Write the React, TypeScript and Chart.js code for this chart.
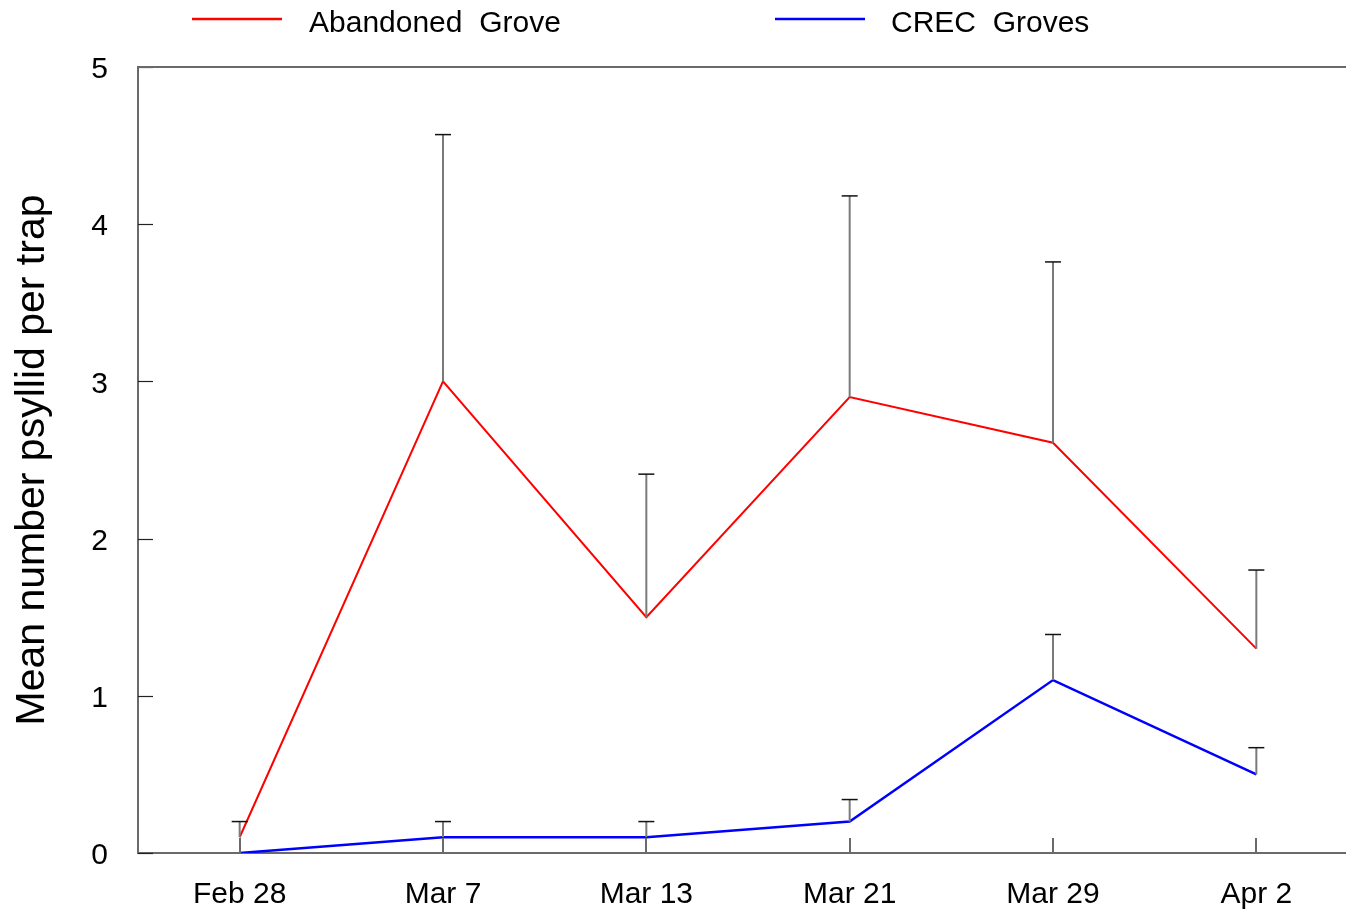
import React, { useEffect, useRef } from 'react';
import { Chart, registerables } from 'chart.js';

Chart.register(...registerables);

// Sampling dates
const dates = ['Feb 28', 'Mar 7', 'Mar 13', 'Mar 21', 'Mar 29', 'Apr 2'];

// Abandoned grove: mean catch and top of the error bar
const abandonedMean = [0.1, 3.0, 1.5, 2.9, 2.61, 1.3];
const abandonedUpper = [0.2, 4.57, 2.41, 4.18, 3.76, 1.8];

// CREC groves: mean catch and top of the error bar
const crecMean = [0, 0.1, 0.1, 0.2, 1.1, 0.5];
const crecUpper = [0, 0.2, 0.2, 0.34, 1.39, 0.67];

const seriesNames = ['Abandoned  Grove', 'CREC  Groves'];
const seriesColors = ['#ff0000', '#0000ff'];

const yTickValues = [0, 1, 2, 3, 4, 5];

const FONT = "'Liberation Sans', Arial, sans-serif";
const AXIS_COLOR = '#6a6a6a';

// Error bars, inward tick marks, top frame line and the legend row
const overlay = {
  id: 'overlay',
  afterDatasetsDraw(chart: any) {
    const ctx = chart.ctx;
    const x = chart.scales.x;
    const y = chart.scales.y;
    const area = chart.chartArea;
    ctx.save();

    // error bars
    chart.data.datasets.forEach((ds: any) => {
      ds.data.forEach((v: number, i: number) => {
        const up = ds.upper[i];
        if (up <= v) return;
        const px = x.getPixelForValue(i);
        const y0 = y.getPixelForValue(v);
        const y1 = y.getPixelForValue(up);
        ctx.strokeStyle = '#7a7a7a';
        ctx.lineWidth = 2;
        ctx.beginPath();
        ctx.moveTo(px, y0);
        ctx.lineTo(px, y1);
        ctx.stroke();
        ctx.strokeStyle = '#111';
        ctx.lineWidth = 1.5;
        ctx.beginPath();
        ctx.moveTo(px - 8, y1);
        ctx.lineTo(px + 8, y1);
        ctx.stroke();
      });
    });

    // x tick marks pointing up into the plot
    ctx.strokeStyle = AXIS_COLOR;
    ctx.lineWidth = 2;
    dates.forEach((_, i) => {
      const px = Math.round(x.getPixelForValue(i));
      ctx.beginPath();
      ctx.moveTo(px, area.bottom);
      ctx.lineTo(px, area.bottom - 15);
      ctx.stroke();
    });

    // y tick marks pointing right into the plot
    ctx.strokeStyle = '#222';
    ctx.lineWidth = 1.2;
    yTickValues.forEach((t) => {
      const py = Math.round(y.getPixelForValue(t)) + 0.5;
      ctx.beginPath();
      ctx.moveTo(area.left, py);
      ctx.lineTo(area.left + 15, py);
      ctx.stroke();
    });

    // top frame line
    ctx.strokeStyle = AXIS_COLOR;
    ctx.lineWidth = 2;
    ctx.beginPath();
    ctx.moveTo(area.left - 1, area.top);
    ctx.lineTo(area.right, area.top);
    ctx.stroke();

    // legend
    const items = [
      { x: 192, textX: 309 },
      { x: 775, textX: 891 },
    ];
    items.forEach((it, k) => {
      ctx.strokeStyle = seriesColors[k];
      ctx.lineWidth = 2.5;
      ctx.beginPath();
      ctx.moveTo(it.x, 19);
      ctx.lineTo(it.x + 90, 19);
      ctx.stroke();
      ctx.fillStyle = '#000';
      ctx.font = `30px ${FONT}`;
      ctx.textBaseline = 'middle';
      ctx.textAlign = 'left';
      ctx.fillText(seriesNames[k], it.textX, 24);
    });

    ctx.restore();
  },
};

export default function App() {
  const ref = useRef<HTMLCanvasElement>(null);

  useEffect(() => {
    const canvas = ref.current;
    if (!canvas) return;
    const chart = new Chart(canvas, {
      type: 'line',
      data: {
        labels: dates,
        datasets: [
          {
            label: seriesNames[0],
            data: abandonedMean,
            upper: abandonedUpper,
            borderColor: seriesColors[0],
            backgroundColor: seriesColors[0],
            borderWidth: 2,
            pointRadius: 0,
            tension: 0,
            fill: false,
          } as any,
          {
            label: seriesNames[1],
            data: crecMean,
            upper: crecUpper,
            borderColor: seriesColors[1],
            backgroundColor: seriesColors[1],
            borderWidth: 2.5,
            pointRadius: 0,
            tension: 0,
            fill: false,
          } as any,
        ],
      },
      options: {
        responsive: false,
        animation: false,
        devicePixelRatio: 1,
        layout: { padding: { top: 67, right: 12, left: 0, bottom: 0 } },
        plugins: {
          legend: { display: false },
          tooltip: { enabled: false },
        },
        scales: {
          x: {
            type: 'category',
            offset: true,
            grid: { display: false, drawTicks: false },
            border: { display: true, color: AXIS_COLOR, width: 2 },
            ticks: {
              color: '#000',
              font: { family: FONT, size: 30 },
              padding: 24,
              maxRotation: 0,
              autoSkip: false,
            },
            afterFit: (s: any) => {
              s.height = 58;
            },
          },
          y: {
            min: 0,
            max: 5,
            grid: { display: false, drawTicks: false },
            border: { display: true, color: AXIS_COLOR, width: 2 },
            ticks: {
              stepSize: 1,
              color: '#000',
              font: { family: FONT, size: 30 },
              padding: 30,
              labelOffset: 3,
            },
            title: {
              display: true,
              text: 'Mean number psyllid per trap',
              color: '#000',
              font: { family: FONT, size: 41 },
              padding: { top: 8, bottom: 0 },
            },
            afterFit: (s: any) => {
              s.width = 138;
            },
          },
        },
      } as any,
      plugins: [overlay],
    });
    return () => chart.destroy();
  }, []);

  return (
    <div
      style={{
        position: 'fixed',
        left: 0,
        top: 0,
        width: 1346,
        height: 911,
        overflow: 'hidden',
        background: '#fff',
      }}
    >
      <canvas ref={ref} width={1370} height={911} style={{ display: 'block' }} />
    </div>
  );
}
